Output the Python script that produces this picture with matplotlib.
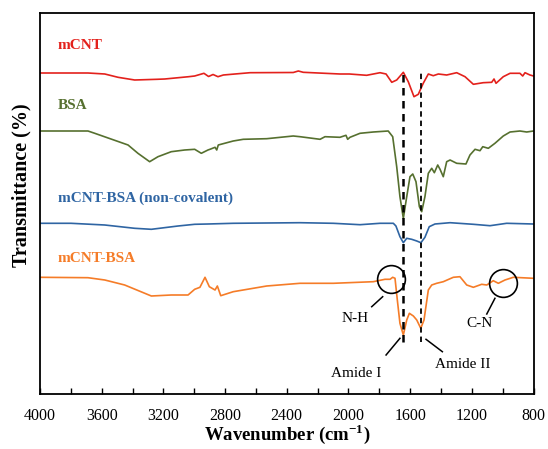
import numpy as np
import matplotlib.pyplot as plt

plt.rcParams['font.family'] = 'Liberation Serif'
plt.rcParams['mathtext.fontset'] = 'custom'
plt.rcParams['mathtext.rm'] = 'Liberation Serif'
plt.rcParams['mathtext.bf'] = 'Liberation Serif:bold'

# FTIR spectra, stacked with offsets (arbitrary transmittance units)
mcnt_wn = [4000, 3805, 3689, 3580, 3494, 3386, 3241, 3191, 3036, 2997, 2937, 2907,
           2878, 2846, 2811, 2638, 2358, 2325, 2293, 2055, 1994, 1882, 1795, 1756,
           1719, 1687, 1644, 1612, 1575, 1547, 1515, 1482, 1450, 1417, 1363, 1298,
           1244, 1190, 1126, 1071, 1056, 1043, 996, 952, 888, 870, 855, 823, 800]
mcnt_t = [321, 321, 321, 320, 316.7, 314, 314.7, 315, 317.3, 318, 320.7, 317.5,
          319.5, 317.3, 319, 321.3, 321.5, 323, 321.7, 320, 320, 318.7, 321.3, 320,
          311.7, 314, 321.7, 312.3, 297.3, 299.7, 310.7, 320, 318.3, 320, 319, 321.3,
          317.3, 309.7, 311.3, 311.7, 315, 310.7, 317.3, 320.7, 320.7, 318, 321.3, 319, 318]

bsa_wn = [4000, 3689, 3645, 3429, 3365, 3289, 3235, 3149, 3062, 2997, 2954, 2911,
          2898, 2865, 2854, 2844, 2747, 2682, 2530, 2358, 2314, 2184, 2152, 2055,
          2016, 2005, 1990, 1925, 1839, 1742, 1713, 1687, 1666, 1644, 1622, 1601,
          1583, 1562, 1540, 1525, 1504, 1482, 1460, 1443, 1421, 1406, 1385, 1363,
          1341, 1298, 1238, 1212, 1179, 1147, 1129, 1093, 1050, 996, 952, 888, 844, 800]
bsa_t = [263, 263, 260.7, 249, 240.7, 232.3, 237.3, 242.3, 244, 244.7, 240.7, 244,
         244.7, 246.7, 244, 249, 253, 254.7, 255.3, 258, 257.3, 254.7, 257.3, 256.7,
         258.7, 254.7, 256.7, 260.7, 262, 263, 257.3, 227.3, 197.3, 175.7, 197.3, 217.3,
         220, 212.3, 187.3, 182.3, 197.3, 220.7, 225.7, 221.3, 229, 224.7, 217.3, 232.3,
         234, 230.7, 230, 239, 244.7, 243.3, 247.3, 245.7, 250.7, 258, 262, 263, 262, 263]

noncov_wn = [4000, 3799, 3580, 3386, 3278, 3105, 2997, 2911, 2747, 2314, 2098, 1925,
             1795, 1709, 1692, 1666, 1644, 1622, 1590, 1557, 1530, 1504, 1476, 1439,
             1341, 1190, 1082, 974, 800]
noncov_t = [170.7, 170.7, 169, 165.7, 164.7, 168, 169.7, 170, 170.7, 171.3, 170.7, 169.3,
            170.7, 170.7, 168, 157.3, 151.3, 155.7, 154.7, 153, 151.3, 156.7, 167.3, 170,
            171.3, 169.7, 168.3, 170.7, 170]

cov_wn = [4000, 3689, 3580, 3451, 3278, 3149, 3040, 2997, 2963, 2930, 2902, 2865,
          2850, 2828, 2747, 2530, 2314, 2098, 1839, 1763, 1730, 1713, 1698, 1683,
          1666, 1644, 1622, 1605, 1579, 1557, 1531, 1510, 1482, 1460, 1428, 1385,
          1320, 1277, 1233, 1190, 1136, 1103, 1061, 1028, 985, 931, 800]
cov_t = [116.7, 116.3, 114, 109, 98, 99, 99, 104.7, 106.7, 116.7, 107.3, 104,
         108, 98.3, 102.3, 108, 110.7, 110.7, 112.3, 114.7, 114.7, 116.7, 115.7, 94,
         70.7, 59, 74, 80.7, 78, 74, 65.7, 74, 104, 109, 110.7, 112.3,
         116.7, 117.3, 109, 106.7, 109.7, 109, 113.3, 110.7, 114, 116.7, 115.7]

names = ['mCNT', 'BSA', 'mCNT-BSA (non-covalent)', 'mCNT-BSA']
colors = ['#E3211C', '#56702F', '#2F65A3', '#F57C28']
label_y = [348, 288.3, 195.7, 135]

amide_lines = [1644, 1530]

fig = plt.figure(figsize=(5.48, 4.49), dpi=100)
ax = fig.add_axes([40 / 548, 55 / 449, 493.5 / 548, 381.3 / 449])

spectra = [(mcnt_wn, mcnt_t), (bsa_wn, bsa_t), (noncov_wn, noncov_t), (cov_wn, cov_t)]
for (wn, t), name, c, ly in zip(spectra, names, colors, label_y):
    ax.plot(wn, t, color=c, lw=1.2)
    ax.text(3885, ly, name, color=c, fontsize=11, fontweight='bold',
            ha='left', va='center')

# dashed guides through the amide bands
ax.vlines(amide_lines[0], 52.3, 322.5, colors='k', linestyles=(0, (3, 2.2)), lw=1.8)
ax.vlines(amide_lines[1], 52.3, 322.5, colors='k', linestyles=(0, (3, 2.2)), lw=1.3)

# circled bands on the covalent conjugate
ax.plot([1724, 1000], [114.7, 111.3], 'o', ms=20, mfc='none', mec='k', mew=1.2)

notes = [('N-H', (1778, 97.3), (1849, 87.3), (1957, 75.7)),
         ('Amide I', (1666, 55.7), (1756, 39), (1951, 20.7)),
         ('Amide II', (1497, 54.7), (1391, 42.3), (1259, 29)),
         ('C-N', (1050, 95.7), (1103, 80), (1147, 70.7))]
for txt, p0, p1, pt in notes:
    ax.plot([p0[0], p1[0]], [p0[1], p1[1]], color='k', lw=1.1)
    ax.text(pt[0], pt[1], txt, fontsize=11, ha='center', va='center')

ax.set_xlim(4000, 800)
ax.set_ylim(0, 381.3)
ax.set_xticks(np.arange(800, 4001, 400))
ax.set_xticks(np.arange(800, 4001, 200), minor=True)
ax.set_yticks([])
ax.tick_params(which='both', direction='in', length=4, width=1, labelsize=11.5, pad=10)
for s in ax.spines.values():
    s.set_linewidth(1.3)

ax.set_xlabel('Wavenumber (cm$^{\\mathbf{-1}}$)', fontsize=13.5, fontweight='bold', labelpad=-1)
ax.set_ylabel('Transmittance (%)', fontsize=14.5, fontweight='bold')
ax.yaxis.set_label_coords(-0.018, 0.548)

fig.savefig('out.png', dpi=100)
